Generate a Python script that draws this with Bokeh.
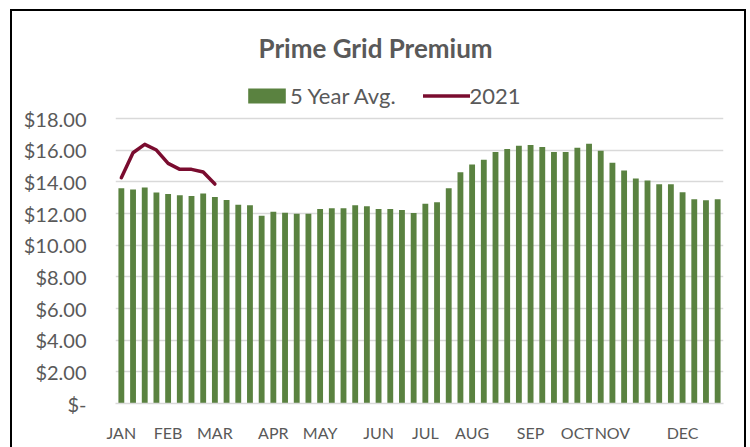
from bokeh.plotting import figure
from bokeh.models import Range1d, FixedTicker, Legend, LegendItem
from bokeh.embed import file_html
from bokeh.resources import INLINE

# ---- data ----
weeks = list(range(52))
avg_5yr = [13.59, 13.52, 13.65, 13.33, 13.23, 13.16, 13.10, 13.27, 13.04, 12.85, 12.55, 12.53,
           11.86, 12.11, 12.05, 11.98, 11.98, 12.28, 12.34, 12.34, 12.52, 12.46, 12.28, 12.28,
           12.22, 12.04, 12.62, 12.71, 13.59, 14.60, 15.10, 15.40, 15.89, 16.08, 16.28, 16.33,
           16.20, 15.89, 15.89, 16.15, 16.40, 15.96, 15.21, 14.72, 14.21, 14.09, 13.85, 13.85,
           13.34, 12.90, 12.84, 12.90]
weeks_2021 = list(range(9))
y2021 = [14.26, 15.84, 16.37, 16.01, 15.17, 14.79, 14.79, 14.62, 13.86]

month_weeks = [0, 4, 8, 13, 17, 22, 26, 30, 35, 39, 42, 48]
month_labels = ["JAN", "FEB", "MAR", "APR", "MAY", "JUN", "JUL", "AUG", "SEP", "OCT", "NOV", "DEC"]
yticks = [0, 2, 4, 6, 8, 10, 12, 14, 16, 18]
ytick_labels = ["$-", "$2.00", "$4.00", "$6.00", "$8.00", "$10.00", "$12.00", "$14.00", "$16.00", "$18.00"]

GREEN = "#5A8240"
MAROON = "#7A0C2F"
TEXT = "#595959"
GRID = "#D9D9D9"
FONT = "Lato"

# the frame reaches above the $18 line so that the legend can sit inside it
p = figure(width=750, height=447, output_backend="svg", toolbar_location=None,
           x_range=Range1d(-0.5, 51.5), y_range=Range1d(0, 21.16),
           min_border_left=115, min_border_right=27, min_border_top=68, min_border_bottom=44)

bars = p.vbar(x=weeks, top=avg_5yr, width=0.5, fill_color=GREEN, line_color=None)
ln = p.line(x=weeks_2021, y=y2021, line_color=MAROON, line_width=3.5, line_join="round", line_cap="round")

# title
p.title.text = "Prime Grid Premium"
p.title.align = "left"
p.title.offset = 143
p.title.standoff = 10
p.title.text_font = FONT
p.title.text_font_size = "26px"
p.title.text_font_style = "bold"
p.title.text_color = TEXT

legend = Legend(items=[LegendItem(label="5 Year Avg.", renderers=[bars]),
                       LegendItem(label="2021", renderers=[ln])],
                orientation="horizontal", location=(128, 294),
                glyph_width=47, glyph_height=19, label_standoff=0, spacing=27,
                padding=0, margin=0, border_line_color=None, background_fill_alpha=0,
                label_text_font=FONT, label_text_font_size="22px", label_text_color=TEXT)
p.add_layout(legend, "center")

# axes
p.xaxis.ticker = FixedTicker(ticks=month_weeks)
p.xaxis.major_label_overrides = dict(zip(month_weeks, month_labels))
p.xaxis.axis_line_color = GRID
p.xaxis.axis_line_width = 1.5
p.xaxis.major_tick_line_color = None
p.xaxis.minor_tick_line_color = None
p.xaxis.major_tick_out = 0
p.xaxis.major_tick_in = 0
p.xaxis.major_label_text_font = FONT
p.xaxis.major_label_text_font_size = "16px"
p.xaxis.major_label_text_color = TEXT
p.xaxis.major_label_standoff = 19

p.yaxis.ticker = FixedTicker(ticks=yticks)
p.yaxis.major_label_overrides = dict(zip(yticks, ytick_labels))
p.yaxis.axis_line_color = None
p.yaxis.major_tick_line_color = None
p.yaxis.minor_tick_line_color = None
p.yaxis.major_tick_out = 0
p.yaxis.major_tick_in = 0
p.yaxis.major_label_text_font = FONT
p.yaxis.major_label_text_font_size = "20px"
p.yaxis.major_label_text_color = TEXT
p.yaxis.major_label_standoff = 29

p.xgrid.grid_line_color = None
p.ygrid.grid_line_color = GRID
p.ygrid.grid_line_width = 1.5
p.outline_line_color = None

html = file_html(p, INLINE)
frame_div = ('<div style="position:fixed;left:10px;top:9px;width:732px;height:480px;'
             'border:2px solid black;pointer-events:none;"></div>')
html = html.replace("</body>", frame_div + "</body>")
open("out.html", "w").write(html)
